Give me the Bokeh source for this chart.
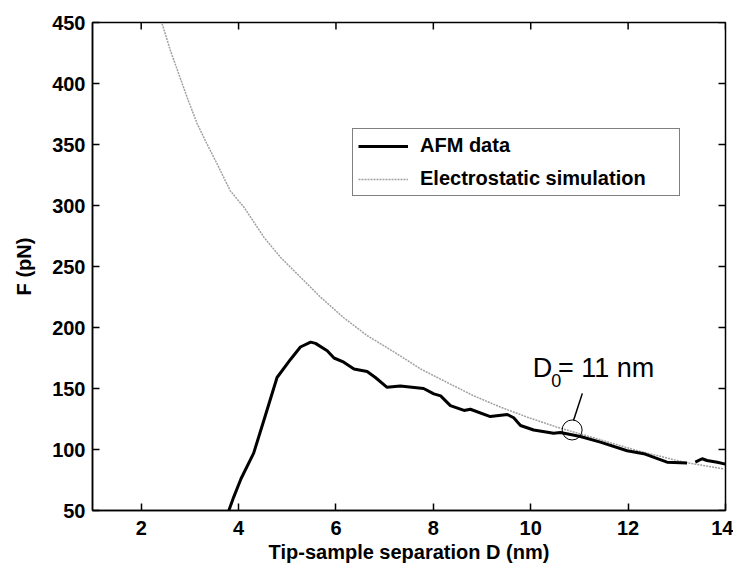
import numpy as np
from bokeh.plotting import figure
from bokeh.models import Range1d, FixedTicker, Legend, LegendItem, Label
from bokeh.embed import file_html
from bokeh.resources import INLINE

# ---- data ----
afm_x = [3.80, 3.90, 4.05, 4.31, 4.52, 4.79, 5.07, 5.27, 5.48, 5.58, 5.82, 5.96, 6.16, 6.37,
         6.64, 6.81, 7.05, 7.32, 7.80, 8.01, 8.15, 8.35, 8.63, 8.76, 9.17, 9.52, 9.65, 9.79,
         10.06, 10.47, 10.61, 11.02, 11.43, 11.98, 12.32, 12.80, 13.21, np.nan,
         13.38, 13.52, 13.62, 13.83, 14.0]
afm_y = [50, 61, 76, 97, 124, 159, 174, 184, 188, 187, 181, 175, 171.6, 166,
         164, 159, 151, 152, 150, 145.6, 144, 136, 132, 133, 127, 128.7, 126, 119.7,
         116, 113.4, 114, 110.6, 106, 99, 96.6, 89.6, 89, np.nan,
         89.6, 92.4, 91, 89.6, 88]

sim_x = [2.43, 2.60, 2.77, 2.94, 3.15, 3.35, 3.56, 3.83, 4.11, 4.52, 4.86, 5.34, 5.68,
         6.16, 6.64, 7.19, 7.74, 8.28, 8.83, 9.38, 9.93, 10.54, 11.43, 12.19, 13.15, 13.97]
sim_y = [449, 427, 408, 389, 367, 350.5, 334, 312, 298.6, 274, 257.6, 238.5, 225,
         208, 193.4, 180, 166, 155, 144, 134.7, 126.5, 118.3, 108, 99, 89.6, 84]

x_ticks = [2, 4, 6, 8, 10, 12, 14]
y_ticks = [50, 100, 150, 200, 250, 300, 350, 400, 450]
x_lim = (1, 14)
y_lim = (50, 450)

series_names = ["AFM data", "Electrostatic simulation"]

# annotation (D0 = 11 nm) anchor points in data units
circle_x, circle_y = [10.85], [116]
pointer_x, pointer_y = [11.06, 10.88], [146, 124]
ann_main = ("D", 10.04, 166.4)
ann_sub = ("0", 10.42, 156.6)
ann_rest = ("= 11 nm", 10.56, 166.4)

FONT = "Liberation Sans"
FW, FH = 633, 488
TICK = 7

p = figure(frame_width=FW, frame_height=FH, output_backend="svg", toolbar_location=None,
           x_range=Range1d(*x_lim), y_range=Range1d(*y_lim),
           min_border_left=92, min_border_top=22, min_border_right=8, min_border_bottom=50)
p.background_fill_color = "white"
p.border_fill_color = "white"
p.grid.visible = False
p.outline_line_color = "black"
p.outline_line_width = 1.5

for ax in (p.xaxis[0], p.yaxis[0]):
    ax.axis_line_width = 1.5
    ax.major_tick_in = TICK
    ax.major_tick_out = 0
    ax.minor_tick_in = 0
    ax.minor_tick_out = 0
    ax.major_tick_line_width = 1.5
    ax.major_label_text_font = FONT
    ax.major_label_text_font_style = "bold"
    ax.major_label_text_font_size = "20px"
    ax.major_label_text_color = "black"
    ax.axis_label_text_font = FONT
    ax.axis_label_text_font_style = "bold"
    ax.axis_label_text_font_size = "20px"
    ax.axis_label_text_color = "black"

p.xaxis[0].ticker = FixedTicker(ticks=x_ticks)
p.yaxis[0].ticker = FixedTicker(ticks=y_ticks)
p.xaxis[0].axis_label = "Tip-sample separation D (nm)"
p.yaxis[0].axis_label = "F (pN)"
p.xaxis[0].major_label_standoff = 10
p.xaxis[0].axis_label_standoff = 3
p.yaxis[0].major_label_standoff = 7
p.yaxis[0].axis_label_standoff = 14

# inward tick marks on the top and right edges of the box (derived from tick lists)
ty = TICK * (y_lim[1] - y_lim[0]) / FH
tx = TICK * (x_lim[1] - x_lim[0]) / FW
p.segment(x0=x_ticks, y0=[y_lim[1]] * len(x_ticks), x1=x_ticks,
          y1=[y_lim[1] - ty] * len(x_ticks), line_color="black", line_width=1.5)
p.segment(x0=[x_lim[1]] * len(y_ticks), y0=y_ticks, x1=[x_lim[1] - tx] * len(y_ticks),
          y1=y_ticks, line_color="black", line_width=1.5)

sim = p.line(sim_x, sim_y, line_color="#a0a0a0", line_width=1.5, line_dash="2 1")
afm = p.line(afm_x, afm_y, line_color="black", line_width=3)

# annotation
p.scatter(circle_x, circle_y, marker="circle", size=20, fill_color=None,
          line_color="black", line_width=1)
p.line(pointer_x, pointer_y, line_color="black", line_width=1.5)
for txt, xx, yy, sz in [(ann_main[0], ann_main[1], ann_main[2], "27px"),
                        (ann_sub[0], ann_sub[1], ann_sub[2], "18px"),
                        (ann_rest[0], ann_rest[1], ann_rest[2], "27px")]:
    p.add_layout(Label(x=xx, y=yy, text=txt, text_font=FONT, text_font_size=sz,
                       text_color="black", text_baseline="alphabetic", text_align="left"))

legend = Legend(items=[LegendItem(label=series_names[0], renderers=[afm]),
                       LegendItem(label=series_names[1], renderers=[sim])],
                location=(260, 314), orientation="vertical")
legend.label_text_font = FONT
legend.label_text_font_style = "bold"
legend.label_text_font_size = "20px"
legend.label_text_color = "black"
legend.glyph_width = 50
legend.glyph_height = 16
legend.label_height = 16
legend.label_width = 254
legend.spacing = 10
legend.padding = 5
legend.margin = 0
legend.label_standoff = 12
legend.border_line_color = "black"
legend.border_line_width = 1.5
legend.background_fill_color = "white"
legend.background_fill_alpha = 1
p.add_layout(legend, "center")

open("out.html", "w").write(file_html(p, INLINE))
